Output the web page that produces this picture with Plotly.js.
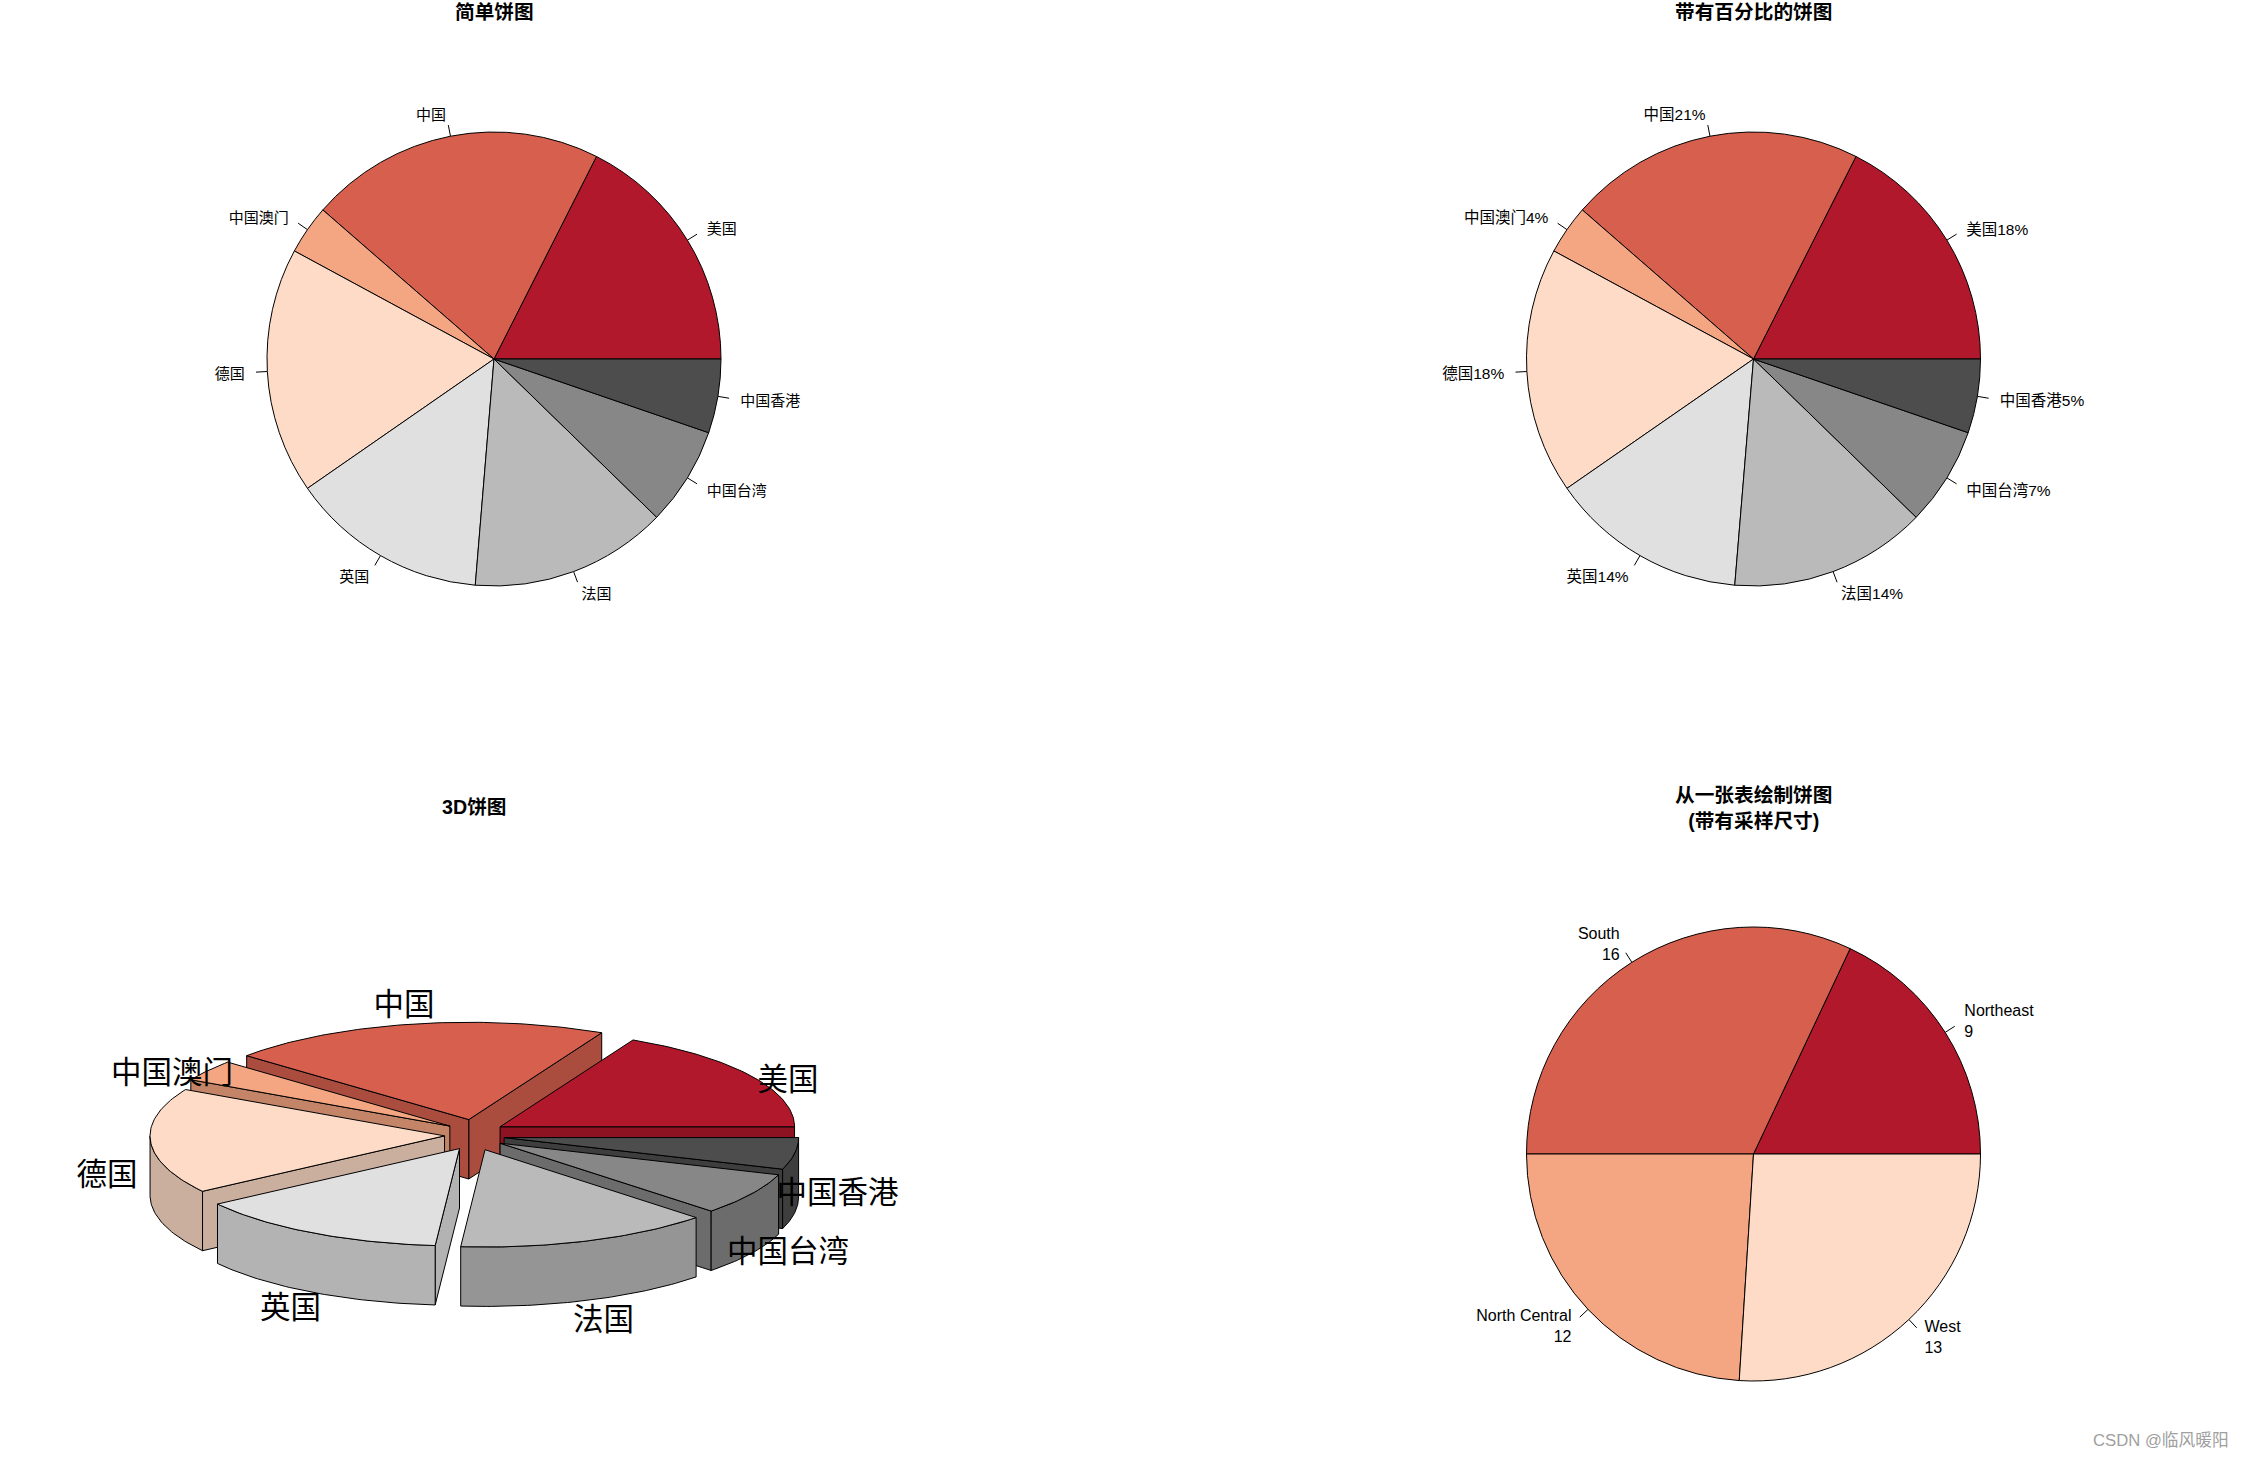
<!DOCTYPE html>
<html><head><meta charset="utf-8">
<script src="https://cdn.plot.ly/plotly-3.0.1.min.js"></script>
<style>html,body{margin:0;padding:0;background:#fff}</style></head>
<body><div id="chart" style="width:2244px;height:1458px"></div>
<script>
// ---- data ----
const countries = ["美国","中国","中国澳门","德国","英国","法国","中国台湾","中国香港"];
const slices = [10,12,2,10,8,8,4,3];
const countryColors = ["#B2182B","#D6604D","#F4A582","#FDDBC7","#E0E0E0","#BABABA","#878787","#4D4D4D"];
const regions = ["Northeast","South","North Central","West"];
const regionCounts = [9,16,12,13];
const regionColors = ["#B2182B","#D6604D","#F4A582","#FDDBC7"];
const titles = ["简单饼图","带有百分比的饼图","3D饼图","从一张表绘制饼图<br>(带有采样尺寸)"];
const watermark = "CSDN @临风暖阳";

// ---- layout constants (page pixels) ----
const W = 2244, H = 1458, R = 227;
const pieA = {cx:494, cy:359}, pieB = {cx:1753.5, cy:359}, pieD = {cx:1753.5, cy:1154};
const p3 = {cx:474.5, cy:1135, rx:294.5, ry:97.3, ex:30, ey:15.7, h:59.4,
            labelX:368, labelCy:1168.7, labelY:164};
const SANS = '"Liberation Sans","Noto Sans CJK SC",sans-serif';
const CJK = '"Noto Sans CJK SC",sans-serif';
const deg = Math.PI/180;

function spans(vals){
  const tot = vals.reduce((a,b)=>a+b,0); let c = 0;
  return vals.map(v=>{const s=c/tot*2*Math.PI; c+=v; return [s,c/tot*2*Math.PI];});
}
function shade(hex,f){
  const n=parseInt(hex.slice(1),16);
  return `rgb(${Math.round((n>>16&255)*f)},${Math.round((n>>8&255)*f)},${Math.round((n&255)*f)})`;
}
const data = [];

function pie2d(p,vals,cols,labels,size,dy){
  const tot = vals.reduce((a,b)=>a+b,0);
  data.push({type:'pie',values:vals,labels:labels,sort:false,direction:'counterclockwise',
    rotation:90-360*vals[0]/tot,
    textinfo:'none',hoverinfo:'skip',marker:{colors:cols,line:{color:'#000',width:1}},
    domain:{x:[(p.cx-R)/W,(p.cx+R)/W],y:[1-(p.cy+R)/H,1-(p.cy-R)/H]}});
  spans(vals).forEach(([a,b],i)=>{
    const m=(a+b)/2, c=Math.cos(m), s=Math.sin(m);
    data.push({type:'scatter',mode:'lines',x:[p.cx+R*c,p.cx+1.05*R*c],y:[p.cy-R*s,p.cy-1.05*R*s],
      line:{color:'#000',width:1},hoverinfo:'skip'});
    data.push({type:'scatter',mode:'text',x:[p.cx+1.1*R*c],y:[p.cy-1.1*R*s+dy],text:[labels[i]],
      textposition:c<0?'middle left':'middle right',textfont:{family:SANS,size:size,color:'#000'},hoverinfo:'skip'});
  });
}
const total = slices.reduce((a,b)=>a+b,0);
pie2d(pieA,slices,countryColors,countries,15,2.5);
pie2d(pieB,slices,countryColors,countries.map((c,i)=>c+Math.round(100*slices[i]/total)+"%"),15.5,2.5);
pie2d(pieD,regionCounts,regionColors,regions.map((r,i)=>r+"<br>"+regionCounts[i]),16,2.5);

// ---- tilted, exploded pie built from the same values ----
function poly(xs,ys,fill){
  data.push({type:'scatter',mode:'lines',x:xs.concat(xs[0]),y:ys.concat(ys[0]),fill:'toself',fillcolor:fill,
    line:{color:'#000',width:1},hoverinfo:'skip'});
}
const sp = spans(slices);
const order = sp.map((s,i)=>i).sort((i,j)=>Math.sin((sp[j][0]+sp[j][1])/2)-Math.sin((sp[i][0]+sp[i][1])/2));
order.forEach(i=>{
  const [a,b]=sp[i], m=(a+b)/2;
  const ox=p3.cx+p3.ex*Math.cos(m), oy=p3.cy-p3.ey*Math.sin(m);
  const rx=t=>ox+p3.rx*Math.cos(t), ry=t=>oy-p3.ry*Math.sin(t);
  const wall=shade(countryColors[i],0.8);
  const radial=t=>poly([ox,rx(t),rx(t),ox],[oy,ry(t),ry(t)+p3.h,oy+p3.h],wall);
  if(Math.cos(a)>0) radial(a);
  if(Math.cos(b)<0) radial(b);
  const lo=Math.max(a,Math.PI), hi=Math.min(b,2*Math.PI);
  if(hi>lo){
    const ts=[]; for(let t=lo;t<hi;t+=deg) ts.push(t); ts.push(hi);
    poly(ts.map(rx).concat(ts.slice().reverse().map(rx)),
         ts.map(ry).concat(ts.slice().reverse().map(t=>ry(t)+p3.h)),wall);
  }
  const ts=[]; for(let t=a;t<b;t+=deg) ts.push(t); ts.push(b);
  poly([ox].concat(ts.map(rx)),[oy].concat(ts.map(ry)),countryColors[i]);
});
sp.forEach(([a,b],i)=>{
  const m=(a+b)/2;
  data.push({type:'scatter',mode:'text',x:[p3.cx+p3.labelX*Math.cos(m)],y:[p3.labelCy-p3.labelY*Math.sin(m)],
    text:[countries[i]],textposition:'middle center',textfont:{family:CJK,size:30.5,color:'#000'},hoverinfo:'skip'});
});

const ann=(t,x,y,size,color,weight,anchor)=>({text:t,x:x,y:y,xref:'x',yref:'y',showarrow:false,
  xanchor:anchor||'center',yanchor:'middle',align:'center',font:{family:SANS,size:size,color:color,weight:weight||400}});
const layout={width:W,height:H,autosize:false,margin:{l:0,r:0,t:0,b:0},showlegend:false,
  paper_bgcolor:'#fff',plot_bgcolor:'#fff',
  xaxis:{range:[0,W],visible:false,fixedrange:true,domain:[0,1]},
  yaxis:{range:[H,0],visible:false,fixedrange:true,domain:[0,1]},
  annotations:[
    ann(titles[0],494,11.5,19.7,'#000',700),
    ann(titles[1],1753.5,11.5,19.7,'#000',700),
    ann(titles[2],474,807,19.7,'#000',700),
    ann(titles[3],1753.5,808,19.7,'#000',700),
    ann(watermark,2231,1440,16.7,'#a0a0a0',400,'right')
  ]};
Plotly.newPlot('chart',data,layout,{displayModeBar:false,staticPlot:true});
</script></body></html>
